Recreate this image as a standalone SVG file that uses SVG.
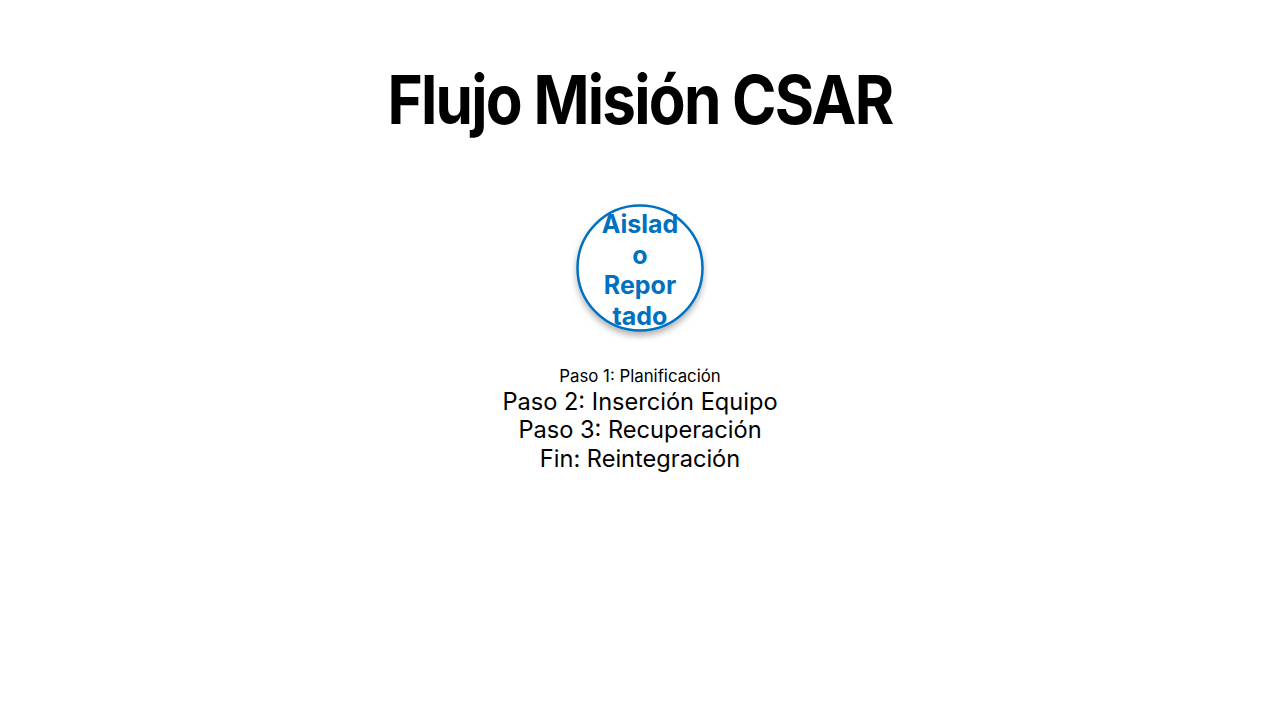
<svg xmlns="http://www.w3.org/2000/svg" width="1280" height="720" viewBox="0 0 1280 720">
<style>
.title{font-family:Inter,"Open Sans","Liberation Sans",sans-serif;font-weight:700;font-size:68px;fill:#000;letter-spacing:-2px}
.node{font-family:Inter,"Open Sans","Liberation Sans",sans-serif;font-weight:700;font-size:25px;fill:#0070C0}
.step{font-family:Inter,"Open Sans","Liberation Sans",sans-serif;fill:#000}
</style>
<defs>
<filter id="sh" x="-30%" y="-30%" width="160%" height="170%">
<feDropShadow dx="0" dy="4" stdDeviation="3" flood-color="#000" flood-opacity="0.3"/>
</filter>
</defs>
<rect width="1280" height="720" fill="#fff"/>
<g id="title"><text class="title" x="640" y="124" text-anchor="middle" textLength="505" lengthAdjust="spacingAndGlyphs">Flujo Misión CSAR</text></g>
<g id="node-aislado">
<circle cx="640" cy="268" r="62.5" fill="#fff" stroke="#0070C0" stroke-width="2.5" filter="url(#sh)"/>
<text class="node" text-anchor="middle"><tspan x="640" y="233">Aislad</tspan><tspan x="640" y="263.5">o</tspan><tspan x="640" y="294">Repor</tspan><tspan x="640" y="324.5">tado</tspan></text>
</g>
<g id="steps">
<text class="step" x="640" y="382" font-size="16.8" text-anchor="middle">Paso 1: Planificación</text>
<text class="step" x="640" y="410" font-size="23.6" text-anchor="middle">Paso 2: Inserción Equipo</text>
<text class="step" x="640" y="438" font-size="23.6" text-anchor="middle">Paso 3: Recuperación</text>
<text class="step" x="640" y="467" font-size="23.6" text-anchor="middle">Fin: Reintegración</text>
</g>
<g id="connectors"></g>
</svg>
